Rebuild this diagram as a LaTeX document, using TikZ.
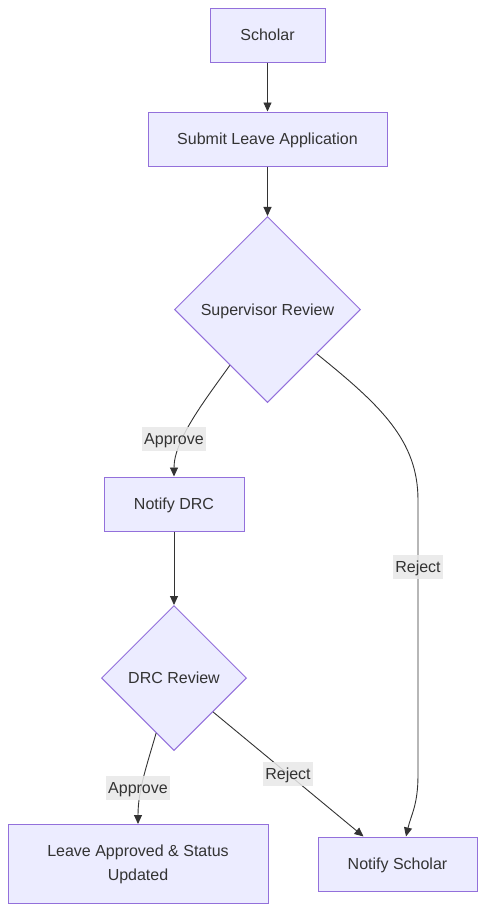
\documentclass[tikz,border=0pt]{standalone}
\usepackage{fontspec}
\setmainfont{Liberation Sans}
\usetikzlibrary{shapes.geometric, arrows.meta, math}

\definecolor{nodefill}{HTML}{ECECFF}
\definecolor{nodeline}{HTML}{9370DB}
\definecolor{txt}{HTML}{333333}
\definecolor{lblbg}{HTML}{E8E8E8}

\tikzset{
    box/.style={draw=nodeline, fill=nodefill, line width=1pt, rectangle, inner sep=0pt, align=center, text height=14.5pt, text depth=3.4pt},
    decision/.style={draw=nodeline, fill=nodefill, line width=1pt, diamond, aspect=1, inner sep=0pt, text height=14.5pt, text depth=3.4pt},
    flow/.style={draw=txt, line width=0.9pt, -{Triangle[length=9pt, width=8pt]}},
    lbl/.style={fill=lblbg, fill opacity=0.85, text opacity=1, inner xsep=2pt, inner ysep=0pt, minimum height=24pt, text height=14.5pt, text depth=3.4pt}
}

\begin{document}
\begin{tikzpicture}[x=1pt, y=-1pt, font=\fontsize{16}{24}\selectfont, text=txt]
    \useasboundingbox (0,0) rectangle (486,911);
    \tikzmath{\xMain = 267.5; \xDrc = 174; \xDone = 138; \xNs = 397.5; \yScholar = 35; \ySubmit = 139; \ySup = 309.5; \yNdrc = 504; \yDrc = 678; \yEnd = 864;}

    \node[box, minimum width=115pt, minimum height=54pt](scholar) at (\xMain,\yScholar) {Scholar};

    \node[box, minimum width=239pt, minimum height=54pt](submit) at (\xMain,\ySubmit) {Submit Leave Application};

    \node[decision, minimum width=186pt, minimum height=186pt](sup) at (\xMain,\ySup) {Supervisor Review};

    \node[box, minimum width=140pt, minimum height=54pt](notify-drc) at (\xDrc,\yNdrc) {Notify DRC};

    \node[decision, minimum width=145pt, minimum height=145pt](drc-rev) at (\xDrc,\yDrc) {DRC Review};

    \node[box, text height=, text depth=, minimum width=260pt, minimum height=79pt](approved) at (\xDone,\yEnd) {Leave Approved \& Status\\ Updated};

    \node[box, minimum width=159pt, minimum height=54pt](notify-sch) at (\xNs,\yEnd) {Notify Scholar};

    \draw[flow] (scholar) -- (submit);
    \draw[flow] (submit) -- (sup);
    \draw[flow] (sup.236) .. controls (205,400) and (174,440) .. (notify-drc.north);
    \draw[flow] (sup.318.6) .. controls (380,405) and (418,440) .. (418,500) -- (418,775) .. controls (418,805) and (411,815) .. ([xshift=8.5pt]notify-sch.north);
    \draw[flow] (notify-drc) -- (drc-rev);
    \draw[flow] (drc-rev.252) .. controls (147,765) and (138,790) .. (approved.north);
    \draw[flow] (drc-rev.319) -- ([xshift=-34pt]notify-sch.north);

    \node[lbl](sup2drc) at (174,439) {Approve};
    \node[lbl](sup2sch) at (418,567) {Reject};
    \node[lbl](drc2done) at (138,788) {Approve};
    \node[lbl](drc2sch) at (288,774) {Reject};
\end{tikzpicture}
\end{document}
